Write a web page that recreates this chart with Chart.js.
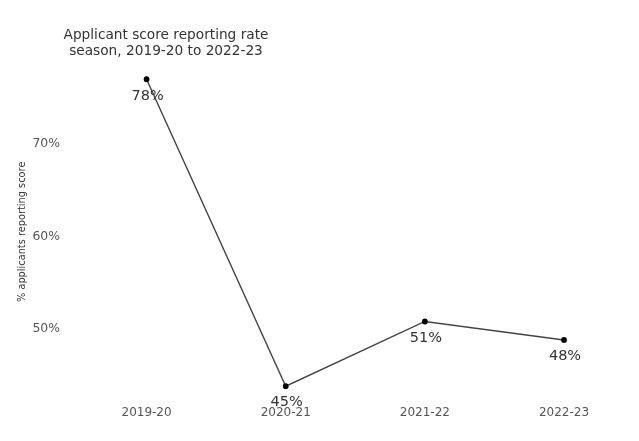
<!DOCTYPE html>
<html>
<head>
<meta charset="utf-8">
<script src="https://cdn.jsdelivr.net/npm/chart.js@4/dist/chart.umd.min.js"></script>
<style>
  html, body { margin: 0; padding: 0; background: #fff; }
  #wrap { width: 639px; height: 441px; }
</style>
</head>
<body>
<div id="wrap"><canvas id="rate-chart"></canvas></div>
<script>
const seasons = ['2019-20', '2020-21', '2021-22', '2022-23'];
const reportingRate = [77.0, 43.8, 50.8, 48.8];
const rateLabels = ['78%', '45%', '51%', '48%'];
const yTicks = [50, 60, 70];
const titleLines = ['Applicant score reporting rate', 'season, 2019-20 to 2022-23'];

const FONT = "'DejaVu Sans', sans-serif";

// title sits above the left part of the plot, not centred on the canvas
const titlePlugin = {
  id: 'leftTitle',
  afterDraw(chart) {
    const ctx = chart.ctx;
    ctx.save();
    ctx.font = '13.7px ' + FONT;
    ctx.fillStyle = '#333';
    ctx.textAlign = 'center';
    ctx.textBaseline = 'middle';
    titleLines.forEach((line, i) => ctx.fillText(line, 166, 35 + i * 16.5));
    ctx.restore();
  }
};

// value labels just under each point
const pointLabels = {
  id: 'pointLabels',
  afterDatasetsDraw(chart) {
    const ctx = chart.ctx;
    const meta = chart.getDatasetMeta(0);
    ctx.save();
    ctx.font = '14.5px ' + FONT;
    ctx.fillStyle = '#333';
    ctx.textAlign = 'center';
    ctx.textBaseline = 'middle';
    meta.data.forEach((pt, i) => ctx.fillText(rateLabels[i], pt.x + 1, pt.y + 16.5));
    ctx.restore();
  }
};

new Chart(document.getElementById('rate-chart'), {
  type: 'line',
  data: {
    labels: seasons,
    datasets: [{
      data: reportingRate,
      borderColor: '#444',
      borderWidth: 1.4,
      pointRadius: 2.2,
      pointBackgroundColor: '#000',
      pointBorderColor: '#000',
      tension: 0
    }]
  },
  options: {
    responsive: true,
    maintainAspectRatio: false,
    animation: false,
    layout: { padding: { top: 70, right: 2, bottom: 9, left: 0 } },
    plugins: {
      legend: { display: false },
      tooltip: { enabled: false }
    },
    scales: {
      x: {
        offset: true,
        grid: { display: false, drawTicks: false },
        border: { display: false },
        ticks: { color: '#555', padding: 12, font: { family: FONT, size: 12 } }
      },
      y: {
        min: 43,
        max: 78,
        grid: { display: false, drawTicks: false },
        border: { display: false },
        afterBuildTicks: (scale) => { scale.ticks = yTicks.map(v => ({ value: v })); },
        afterFit: (scale) => { scale.width = 77; },
        ticks: {
          color: '#555',
          padding: 17,
          font: { family: FONT, size: 12.4 },
          callback: (v) => v + '%'
        },
        title: {
          display: true,
          text: '% applicants reporting score',
          color: '#333',
          font: { family: FONT, size: 9.8 },
          padding: { top: 17, bottom: 0 }
        }
      }
    }
  },
  plugins: [titlePlugin, pointLabels]
});
</script>
</body>
</html>
